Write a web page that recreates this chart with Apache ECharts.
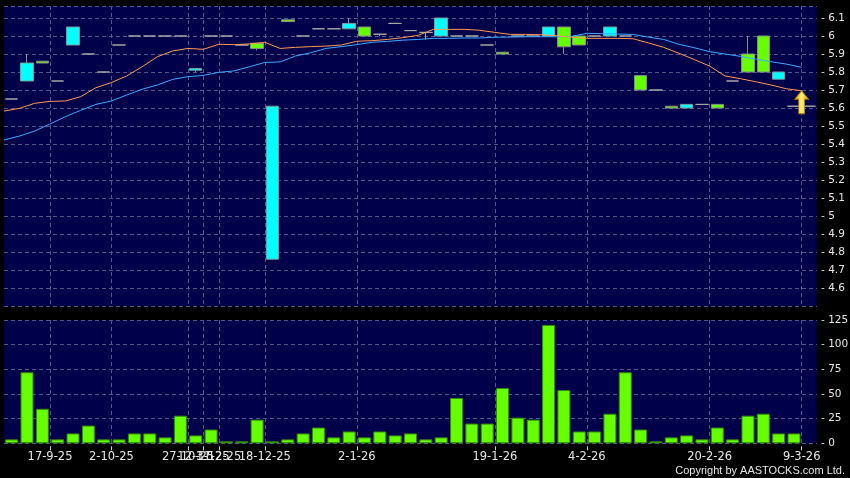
<!DOCTYPE html>
<html><head><meta charset="utf-8">
<script src="https://cdn.jsdelivr.net/npm/echarts@6.0.0/dist/echarts.min.js"></script>
<style>html,body{margin:0;padding:0;background:#000;}#c{width:850px;height:478px;}</style>
</head><body><div id="c"></div>
<script>
// ---- data (one entry per trading slot) ----
const opens  = [5.65,5.85,5.85,5.75,6.05,5.90,5.80,5.95,6.00,6.00, 6.00,6.00,5.82,6.00,6.00,5.95,5.93,5.61,6.08,6.00, 6.04,6.04,6.07,6.00,6.01,6.07,6.03,6.02,6.10,6.00, 6.00,5.95,5.90,6.00,6.00,6.05,5.94,5.95,6.00,6.05, 6.00,5.70,5.70,5.60,5.62,5.62,5.60,5.75,5.80,5.80, 5.80,5.61,5.61];
const closes = [5.65,5.75,5.86,5.75,5.95,5.90,5.80,5.95,6.00,6.00, 6.00,6.00,5.81,6.00,6.00,5.95,5.96,4.76,6.09,6.00, 6.04,6.04,6.04,6.05,6.01,6.07,6.03,6.02,6.00,6.00, 6.00,5.95,5.91,6.00,6.00,6.00,6.05,6.00,6.00,6.00, 6.00,5.78,5.70,5.61,5.60,5.62,5.62,5.75,5.90,6.00, 5.76,5.61,5.61];
const lows   = [5.65,5.75,5.85,5.75,5.95,5.90,5.80,5.95,6.00,6.00, 6.00,6.00,5.80,6.00,6.00,5.95,5.92,4.76,6.08,6.00, 6.04,6.04,6.04,6.00,6.00,6.07,6.03,5.98,6.00,6.00, 6.00,5.95,5.90,6.00,6.00,6.00,5.90,5.95,6.00,6.00, 6.00,5.70,5.70,5.60,5.60,5.62,5.60,5.75,5.80,5.80, 5.76,5.61,5.61];
const highs  = [5.65,5.90,5.86,5.75,6.05,5.90,5.80,5.95,6.00,6.00, 6.00,6.00,5.82,6.00,6.00,5.95,5.96,5.61,6.09,6.00, 6.04,6.04,6.10,6.05,6.01,6.07,6.03,6.02,6.10,6.00, 6.00,5.95,5.91,6.00,6.00,6.05,6.05,6.00,6.00,6.05, 6.00,5.78,5.70,5.61,5.62,5.62,5.62,5.75,6.00,6.00, 5.80,5.61,5.61];
const volumes = [4,72,35,4,10,18,4,4,10,10, 6,28,8,14,2,2,24,2,4,10, 16,6,12,6,12,8,10,4,6,46, 20,20,56,26,24,120,54,12,12,30, 72,14,2,6,8,4,16,4,28,30, 10,10];
const maShort = [5.583,5.598,5.626,5.637,5.639,5.663,5.713,5.741,5.778,5.829, 5.885,5.917,5.931,5.926,5.954,5.952,5.956,5.965,5.931,5.937, 5.941,5.944,5.950,5.971,5.974,5.981,5.991,6.004,6.037,6.037, 6.037,6.032,6.020,6.009,6.009,6.007,6.002,5.993,5.987,5.987, 5.987,5.985,5.962,5.937,5.904,5.869,5.833,5.778,5.763,5.746, 5.728,5.707,5.696];
const maLong  = [5.422,5.444,5.472,5.511,5.552,5.587,5.620,5.639,5.672,5.704, 5.728,5.759,5.774,5.781,5.798,5.806,5.829,5.853,5.856,5.889, 5.907,5.931,5.941,5.952,5.965,5.970,5.977,5.981,5.987,5.987, 5.989,5.989,5.993,5.994,5.996,5.996,5.996,5.998,6.015,6.013, 6.011,6.009,5.994,5.981,5.954,5.935,5.913,5.900,5.887,5.872, 5.857,5.844,5.826];
const tickSlots  = [3,7,12,13,14,17,23,32,38,46,52];
const tickLabels = ['17-9-25','2-10-25','27-10-25','12-11-25','3-12-25','18-12-25','2-1-26','19-1-26','4-2-26','20-2-26','9-3-26'];
const priceMin = 4.5, priceMax = 6.1667, priceStep = 0.1;
const volMin = 0, volMax = 125, volStep = 25;

// ---- build ----
const nSlots = opens.length;                       // 53 bands
const bandCats = opens.map((_, i) => String(i));
const edgeCats = Array.from({length: nSlots + 1}, (_, i) => String(i)); // band boundaries
const labelMap = {};
tickSlots.forEach((s, i) => { labelMap[s] = tickLabels[i]; });
const isTick = (idx) => labelMap[idx] !== undefined;
const candleData = opens.map((o, i) => [o, closes[i], lows[i], highs[i]]);

const gridLine = {color: '#55558e', type: [4, 3], width: 1};
const txt = '#e6e6e6';
const font = 'DejaVu Sans';

const chart = echarts.init(document.getElementById('c'), null, {renderer: 'canvas'});
chart.setOption({
  animation: false,
  backgroundColor: '#000',
  grid: [
    {left: 4, right: 33, top: 6, height: 300, show: true, backgroundColor: '#00004a', borderWidth: 0, outerBoundsMode: 'none'},
    {left: 4, right: 33, top: 320, height: 123.3, show: true, backgroundColor: '#00004a', borderWidth: 0, outerBoundsMode: 'none'}
  ],
  xAxis: [
    {type: 'category', gridIndex: 0, position: 'bottom', data: bandCats, boundaryGap: true, show: false},
    {type: 'category', gridIndex: 0, position: 'bottom', data: edgeCats, boundaryGap: false,
     axisLine: {show: false}, axisTick: {show: false}, axisLabel: {show: false},
     splitLine: {show: true, interval: (i) => isTick(i), lineStyle: gridLine}},
    {type: 'category', gridIndex: 1, position: 'bottom', data: bandCats, boundaryGap: true, show: false},
    {type: 'category', gridIndex: 1, position: 'bottom', data: edgeCats, boundaryGap: false, offset: 3,
     axisLine: {show: false},
     axisTick: {show: true, interval: (i) => isTick(i), length: 4, lineStyle: {color: '#cccccc'}},
     axisLabel: {show: true, interval: (i) => isTick(i), formatter: (v, i) => labelMap[i] || '',
                 color: txt, fontSize: 11.5, fontFamily: font, margin: 5},
     splitLine: {show: true, interval: (i) => isTick(i), lineStyle: gridLine}}
  ],
  yAxis: [
    {type: 'value', gridIndex: 0, position: 'right', min: priceMin, max: priceMax, interval: priceStep,
     axisLine: {show: false}, axisTick: {show: false},
     axisLabel: {showMinLabel: false, showMaxLabel: false, color: txt, fontSize: 10.5, fontFamily: font, margin: 4,
                 formatter: (v) => '- ' + (+v.toFixed(2))},
     splitLine: {show: true, lineStyle: gridLine}},
    {type: 'value', gridIndex: 1, position: 'right', min: volMin, max: volMax, interval: volStep,
     axisLine: {show: false}, axisTick: {show: false},
     axisLabel: {color: txt, fontSize: 10.5, fontFamily: font, margin: 4, formatter: (v) => '- ' + v},
     splitLine: {show: true, lineStyle: gridLine}}
  ],
  series: [
    {type: 'candlestick', xAxisIndex: 0, yAxisIndex: 0, data: candleData, barWidth: 13, z: 2,
     itemStyle: {color: '#66ff00', color0: '#00ffff', borderColor: '#8a8a8a', borderColor0: '#7a9a9a',
                 borderColorDoji: '#a8a8a8', borderWidth: 1}},
    {type: 'line', xAxisIndex: 1, yAxisIndex: 0, data: maLong, symbol: 'none', z: 3,
     lineStyle: {color: '#3fa9ff', width: 1}},
    {type: 'line', xAxisIndex: 1, yAxisIndex: 0, data: maShort, symbol: 'none', z: 3,
     lineStyle: {color: '#ff9a50', width: 1},
     markPoint: {
       symbol: 'path://M7,0 L14,9 L10,9 L10,24 L4,24 L4,9 L0,9 Z',
       symbolSize: [14, 23], symbolOffset: [0, '50%'], symbolKeepAspect: false,
       label: {show: false}, silent: true,
       itemStyle: {color: new echarts.graphic.LinearGradient(0, 0, 1, 0, [
         {offset: 0, color: '#d99a00'}, {offset: 0.5, color: '#fff27a'}, {offset: 1, color: '#d99a00'}]),
         borderColor: '#b07800', borderWidth: 0.8},
       data: [{coord: [nSlots - 1, maShort[maShort.length - 1]]}]
     }},
    {type: 'bar', xAxisIndex: 2, yAxisIndex: 1, data: volumes, barWidth: 13,
     itemStyle: {color: '#66ff00', borderColor: '#2f8a00', borderWidth: 1}}
  ],
  graphic: [
    {type: 'text', right: 5, top: 465, style: {text: 'Copyright by AASTOCKS.com Ltd.', fill: txt, font: '11px "Liberation Sans"'}}
  ]
});
</script>
</body></html>
